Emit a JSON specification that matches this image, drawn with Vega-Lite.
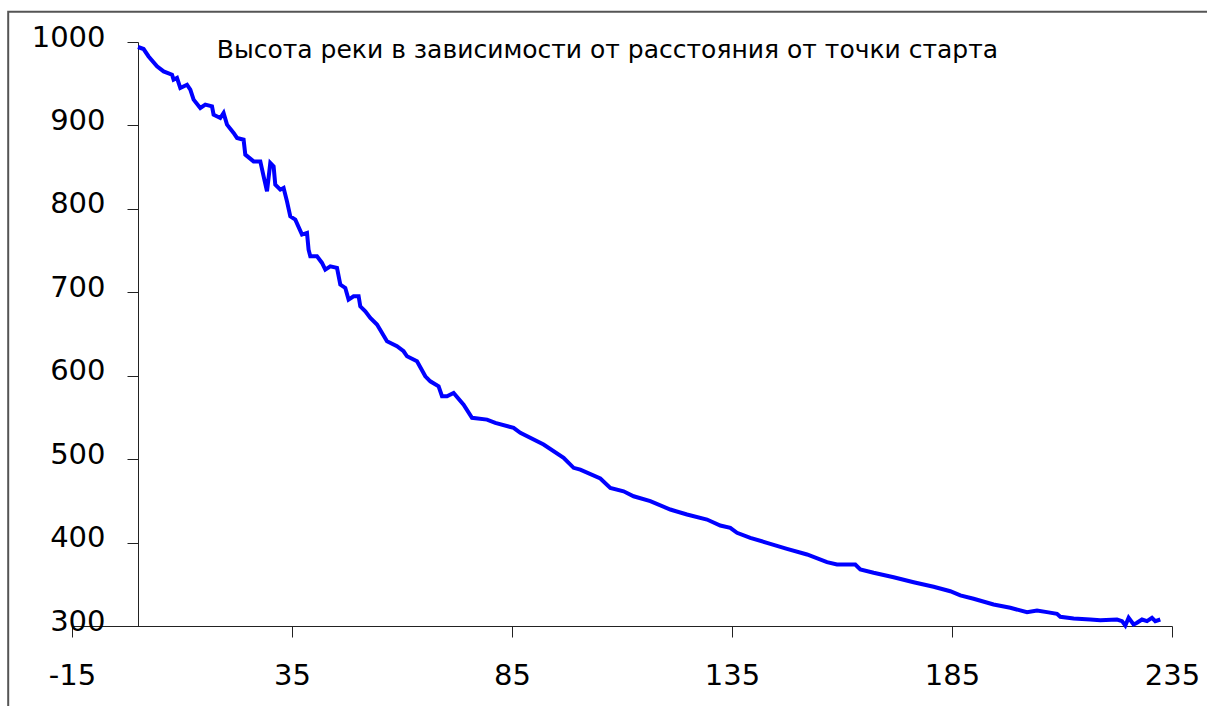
{
  "$schema": "https://vega.github.io/schema/vega-lite/v6.json",
  "width": 1100,
  "height": 584,
  "autosize": {"type": "none"},
  "padding": {"left": 72, "top": 42, "right": 35, "bottom": 80},
  "background": "white",
  "config": {
    "view": {"stroke": null},
    "font": "DejaVu Sans",
    "axis": {
      "grid": false,
      "domainColor": "#222",
      "tickColor": "#222",
      "domainWidth": 1,
      "tickWidth": 1,
      "tickSize": 11,
      "labelFont": "DejaVu Sans",
      "labelFontSize": 29,
      "labelColor": "#000",
      "labelFlush": false,
      "labelOverlap": false,
      "labelExpr": "'' + datum.value"
    }
  },
  "datasets": {
    "river": [
      {"d": 0, "h": 994},
      {"d": 1.27, "h": 991.6},
      {"d": 2.41, "h": 982.7},
      {"d": 4.32, "h": 970.8},
      {"d": 5.82, "h": 964.8},
      {"d": 7.73, "h": 960.8},
      {"d": 8.09, "h": 954.8},
      {"d": 8.86, "h": 956.9},
      {"d": 9.61, "h": 944.9},
      {"d": 11.14, "h": 948.8},
      {"d": 11.89, "h": 942.8},
      {"d": 12.64, "h": 930.9},
      {"d": 14.16, "h": 920.9},
      {"d": 15.3, "h": 924.9},
      {"d": 16.82, "h": 922.8},
      {"d": 17.18, "h": 912.9},
      {"d": 18.7, "h": 908.9},
      {"d": 19.45, "h": 914.9},
      {"d": 20.23, "h": 900.9},
      {"d": 21.73, "h": 891},
      {"d": 22.5, "h": 885},
      {"d": 24.0, "h": 882.9},
      {"d": 24.39, "h": 865},
      {"d": 26.27, "h": 856.9},
      {"d": 27.8, "h": 856.9},
      {"d": 28.55, "h": 839},
      {"d": 29.32, "h": 821},
      {"d": 30.07, "h": 855},
      {"d": 30.82, "h": 851},
      {"d": 31.2, "h": 829},
      {"d": 32.34, "h": 823},
      {"d": 33.09, "h": 825},
      {"d": 33.86, "h": 809},
      {"d": 34.61, "h": 791},
      {"d": 35.75, "h": 787.1},
      {"d": 37.27, "h": 769.1},
      {"d": 38.41, "h": 771.1},
      {"d": 38.77, "h": 751.1},
      {"d": 39.16, "h": 743.1},
      {"d": 40.68, "h": 743.1},
      {"d": 41.82, "h": 735.2},
      {"d": 42.57, "h": 727.2},
      {"d": 43.7, "h": 731.1},
      {"d": 45.23, "h": 729.2},
      {"d": 45.98, "h": 709.2},
      {"d": 47.11, "h": 705.2},
      {"d": 47.86, "h": 691.2},
      {"d": 49.0, "h": 695.2},
      {"d": 50.14, "h": 695.2},
      {"d": 50.52, "h": 683.2},
      {"d": 51.66, "h": 677.2},
      {"d": 52.8, "h": 669.3},
      {"d": 54.32, "h": 661.3},
      {"d": 56.59, "h": 641.3},
      {"d": 58.86, "h": 635.3},
      {"d": 60.36, "h": 629.3},
      {"d": 61.14, "h": 623.3},
      {"d": 63.41, "h": 617.3},
      {"d": 65.3, "h": 599.3},
      {"d": 66.43, "h": 593.3},
      {"d": 68.32, "h": 587.3},
      {"d": 69.09, "h": 575.4},
      {"d": 70.23, "h": 575.4},
      {"d": 71.73, "h": 579.4},
      {"d": 74.0, "h": 565.4},
      {"d": 75.91, "h": 549.5},
      {"d": 79.32, "h": 547.4},
      {"d": 81.2, "h": 543.5},
      {"d": 85.36, "h": 537.5},
      {"d": 86.89, "h": 531.5},
      {"d": 92.18, "h": 517.5},
      {"d": 96.73, "h": 501.6},
      {"d": 99.0, "h": 489.6},
      {"d": 100.52, "h": 487.5},
      {"d": 105.07, "h": 476.8},
      {"d": 107.34, "h": 465.6},
      {"d": 110.36, "h": 461.5},
      {"d": 112.64, "h": 455.5},
      {"d": 116.43, "h": 449.6},
      {"d": 120.98, "h": 439.6},
      {"d": 124.77, "h": 433.6},
      {"d": 129.32, "h": 427.6},
      {"d": 132.34, "h": 420.4},
      {"d": 134.61, "h": 417.7},
      {"d": 136.14, "h": 411.7},
      {"d": 139.16, "h": 405.7},
      {"d": 142.95, "h": 399.7},
      {"d": 147.5, "h": 392.5},
      {"d": 152.05, "h": 385.7},
      {"d": 156.59, "h": 376.5},
      {"d": 158.86, "h": 373.7},
      {"d": 163.02, "h": 373.7},
      {"d": 164.16, "h": 367.7},
      {"d": 167.18, "h": 363.8},
      {"d": 171.73, "h": 358.5},
      {"d": 176.27, "h": 352.5},
      {"d": 180.82, "h": 347},
      {"d": 184.61, "h": 341.7},
      {"d": 186.89, "h": 336.6},
      {"d": 189.91, "h": 332.6},
      {"d": 194.45, "h": 325.8},
      {"d": 198.25, "h": 321.8},
      {"d": 202.05, "h": 316.6},
      {"d": 204.32, "h": 318.6},
      {"d": 206.59, "h": 316.6},
      {"d": 208.86, "h": 314.6},
      {"d": 209.61, "h": 311},
      {"d": 212.64, "h": 309},
      {"d": 216.43, "h": 307.8},
      {"d": 218.7, "h": 307},
      {"d": 222.5, "h": 307.8},
      {"d": 223.64, "h": 305.8},
      {"d": 224.39, "h": 300.6},
      {"d": 225.14, "h": 309.8},
      {"d": 226.27, "h": 301.8},
      {"d": 227.05, "h": 303.9},
      {"d": 228.18, "h": 307.8},
      {"d": 229.32, "h": 305.8},
      {"d": 230.45, "h": 309.8},
      {"d": 231.2, "h": 305.8},
      {"d": 232.34, "h": 307.8}
    ],
    "frame": [
      {"x0": -29.5, "y0": 1036.3, "x1": 300, "y1": 100}
    ],
    "caption": [
      {"label": "Высота реки в зависимости от расстояния от точки старта", "d": 106.7, "h": 981.2}
    ]
  },
  "layer": [
    {
      "data": {"name": "river"},
      "mark": {"type": "line", "color": "#0000ff", "strokeWidth": 4, "strokeJoin": "miter", "clip": false},
      "encoding": {
        "x": {
          "field": "d", "type": "quantitative", "title": null,
          "scale": {"domain": [-15, 235], "nice": false, "zero": false},
          "axis": {"values": [-15, 35, 85, 135, 185, 235], "labelPadding": 24, "title": null}
        },
        "y": {
          "field": "h", "type": "quantitative", "title": null,
          "scale": {"domain": [300, 1000], "nice": false, "zero": false},
          "axis": {"values": [300, 400, 500, 600, 700, 800, 900, 1000], "offset": -66, "labelPadding": 22, "labelOffset": -5, "title": null}
        }
      }
    },
    {
      "data": {"name": "frame"},
      "mark": {"type": "rect", "fill": "transparent", "stroke": "#555", "strokeWidth": 2, "clip": false},
      "encoding": {
        "x": {"field": "x0", "type": "quantitative", "title": null},
        "x2": {"field": "x1"},
        "y": {"field": "y0", "type": "quantitative", "title": null},
        "y2": {"field": "y1"}
      }
    },
    {
      "data": {"name": "caption"},
      "mark": {"type": "text", "font": "DejaVu Sans", "fontSize": 25, "align": "center", "baseline": "alphabetic", "color": "#000"},
      "encoding": {
        "text": {"field": "label", "type": "nominal"},
        "x": {"field": "d", "type": "quantitative", "title": null},
        "y": {"field": "h", "type": "quantitative", "title": null}
      }
    }
  ]
}
